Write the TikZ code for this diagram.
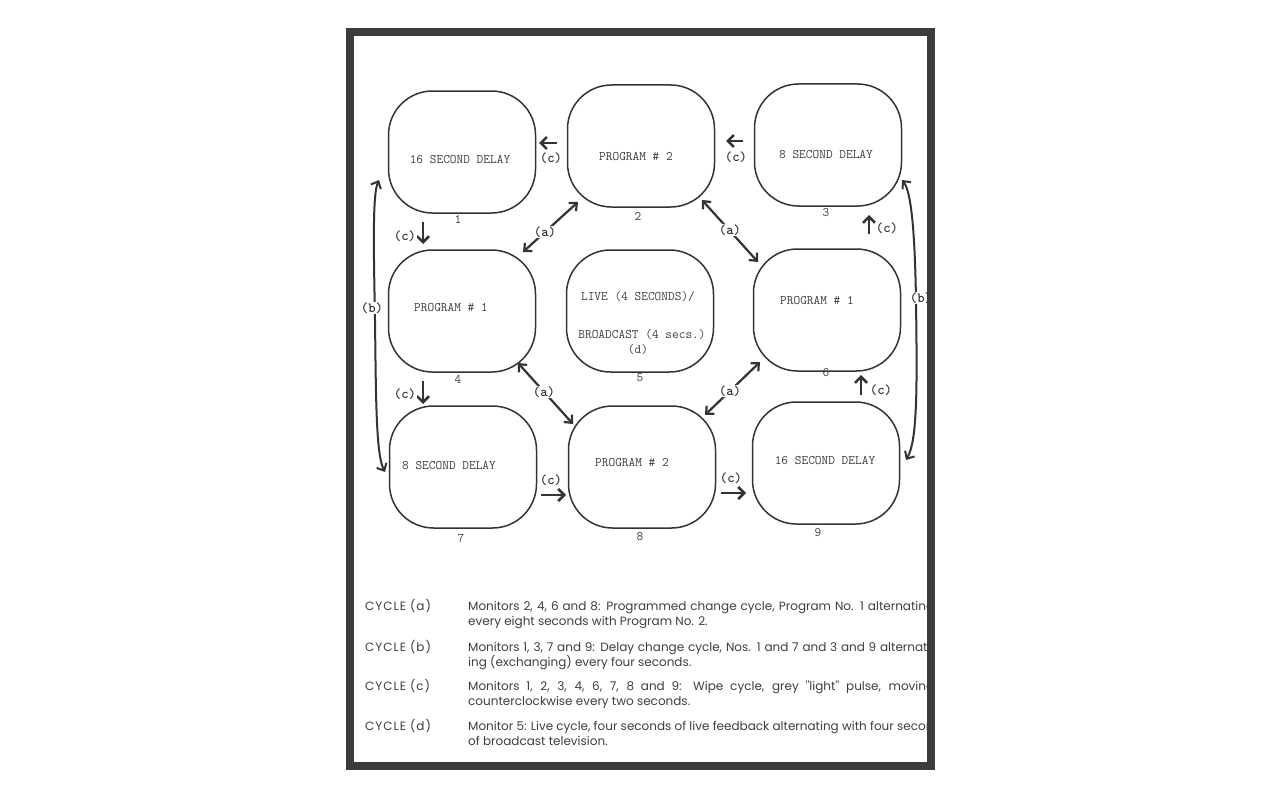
\documentclass[tikz,border=0pt]{standalone}
\usepackage{fontspec}
\newfontfamily\capfont{Poppins}
\usetikzlibrary{arrows.meta}
\definecolor{ink}{HTML}{333333}
\definecolor{txt}{HTML}{3E3E3E}
\definecolor{framec}{HTML}{3C3C3C}
\newcommand{\jline}[1]{\hbox to 466pt{#1}}
\begin{document}
\begin{tikzpicture}[x=1pt,y=-1pt,
  monitor/.style={draw=ink, line width=1.5pt, rounded corners=44pt, minimum width=147pt, minimum height=122pt, inner sep=0pt},
  mtext/.style={font=\ttfamily\fontsize{13}{15}\selectfont, text=txt, inner sep=0pt},
  num/.style={font=\ttfamily\fontsize{13}{15}\selectfont, text=txt, inner sep=0pt},
  lab/.style={font=\ttfamily\bfseries\fontsize{14}{16}\selectfont, text=ink, fill=white, inner sep=0.5pt},
  carrow/.style={line width=2.6pt, draw=ink, -{Straight Barb[length=6pt,width=12pt]}},
  aarrow/.style={line width=2.2pt, draw=ink, {Straight Barb[length=6pt,width=11pt]}-{Straight Barb[length=6pt,width=11pt]}},
  barrow/.style={line width=2pt, draw=ink, {Straight Barb[length=6pt,width=11pt]}-{Straight Barb[length=6pt,width=11pt]}},
  captext/.style={font=\capfont\fontsize{12}{14}\selectfont, text=txt, anchor=base west, inner sep=0pt},
  cyc/.style={font=\capfont\addfontfeature{LetterSpace=8}\fontsize{12}{14}\selectfont, text=txt, anchor=base west, inner sep=0pt}
]
\useasboundingbox (0,0) rectangle (1280,800);
\fill[white] (0,0) rectangle (1280,800);

% monitors
\node[monitor] (m1) at (462,152) {};
\node[monitor] (m2) at (641,146) {};
\node[monitor] (m3) at (828,145) {};
\node[monitor] (m4) at (462,311) {};
\node[monitor] (m5) at (640,311) {};
\node[monitor] (m6) at (827,310) {};
\node[monitor] (m7) at (463,467) {};
\node[monitor] (m8) at (642,467) {};
\node[monitor] (m9) at (826,463) {};

% monitor texts
\node[mtext] (t1) at (460,160) {16 SECOND DELAY};
\node[mtext] (t2) at (636,157) {PROGRAM \# 2};
\node[mtext] (t3) at (826,155) {8 SECOND DELAY};
\node[mtext] (t4) at (451,308) {PROGRAM \# 1};
\node[mtext] (t5a) at (638,297) {LIVE (4 SECONDS)/};
\node[mtext] (t5b) at (642,335) {BROADCAST (4 secs.)};
\node[mtext] (t5c) at (638,350) {(d)};
\node[mtext] (t6) at (817,301) {PROGRAM \# 1};
\node[mtext] (t7) at (449,466) {8 SECOND DELAY};
\node[mtext] (t8) at (632,463) {PROGRAM \# 2};
\node[mtext] (t9) at (825,461) {16 SECOND DELAY};

% numbers
\node[num] (n1) at (458,219) {1};
\node[num] (n2) at (638,216) {2};
\node[num] (n3) at (826,213) {3};
\node[num] (n4) at (458,379) {4};
\node[num] (n5) at (640,378) {5};
\node[num] (n6) at (826,373) {6};
\node[num] (n7) at (461,539) {7};
\node[num] (n8) at (640,537) {8};
\node[num] (n9) at (818,533) {9};

% (c) arrows
\coordinate (c21s) at (557,143); \coordinate (c21e) at (539,143);
\draw[carrow] (c21s) -- (c21e);
\node[lab] (lc21) at (551,158) {(c)};
\coordinate (c32s) at (743,141); \coordinate (c32e) at (726,141);
\draw[carrow] (c32s) -- (c32e);
\node[lab] (lc32) at (736,157) {(c)};
\coordinate (c14s) at (423,222); \coordinate (c14e) at (423,244);
\draw[carrow] (c14s) -- (c14e);
\node[lab] (lc14) at (405,236) {(c)};
\coordinate (c47s) at (423,381); \coordinate (c47e) at (423,404);
\draw[carrow] (c47s) -- (c47e);
\node[lab] (lc47) at (405,394) {(c)};
\coordinate (c78s) at (541,495); \coordinate (c78e) at (566,495);
\draw[carrow] (c78s) -- (c78e);
\node[lab] (lc78) at (551,480) {(c)};
\coordinate (c89s) at (721,493); \coordinate (c89e) at (746,493);
\draw[carrow] (c89s) -- (c89e);
\node[lab] (lc89) at (731,478) {(c)};
\coordinate (c96s) at (861,395); \coordinate (c96e) at (861,375);
\draw[carrow] (c96s) -- (c96e);
\node[lab] (lc96) at (881,390) {(c)};
\coordinate (c63s) at (869,234); \coordinate (c63e) at (869,215);
\draw[carrow] (c63s) -- (c63e);
\node[lab] (lc63) at (887,228) {(c)};

% (a) arrows
\coordinate (a24s) at (578,202); \coordinate (a24e) at (523,252);
\draw[aarrow] (a24s) -- (a24e);
\node[lab] (la24) at (545,232) {(a)};
\coordinate (a26s) at (702,200); \coordinate (a26e) at (758,262);
\draw[aarrow] (a26s) -- (a26e);
\node[lab] (la26) at (730,230) {(a)};
\coordinate (a48s) at (518,363); \coordinate (a48e) at (573,424);
\draw[aarrow] (a48s) -- (a48e);
\node[lab] (la48) at (544,392) {(a)};
\coordinate (a68s) at (760,362); \coordinate (a68e) at (705,415);
\draw[aarrow] (a68s) -- (a68e);
\node[lab] (la68) at (730,391) {(a)};

% (b) arrows
\coordinate (bl1) at (379,180); \coordinate (bl2) at (385,472);
\draw[barrow] (bl1) .. controls (372,195) and (374,260) .. (375,320) .. controls (376,400) and (376,455) .. (bl2);
\node[lab] (lbl) at (372,308) {(b)};
\coordinate (br1) at (902,180); \coordinate (br2) at (906,460);
\draw[barrow] (br1) .. controls (912,192) and (915,240) .. (916,300) .. controls (917,380) and (918,440) .. (br2);
\node[lab] (lbr) at (921,298) {(b)};

% caption
\begin{scope}
\clip (354,560) rectangle (927,762);
\node[cyc] (ca) at (365,610) {CYCLE (a)};
\node[captext] (da1) at (468,610) {\jline{Monitors 2, 4, 6 and 8: Programmed change cycle, Program No. 1 alternating}};
\node[captext] (da2) at (468,625) {every eight seconds with Program No. 2.};
\node[cyc] (cb) at (365,651) {CYCLE (b)};
\node[captext] (db1) at (468,651) {\jline{Monitors 1, 3, 7 and 9: Delay change cycle, Nos. 1 and 7 and 3 and 9 alternat-}};
\node[captext] (db2) at (468,666) {ing (exchanging) every four seconds.};
\node[cyc] (cc) at (365,690) {CYCLE (c)};
\node[captext] (dc1) at (468,690) {\jline{Monitors 1, 2, 3, 4, 6, 7, 8 and 9: Wipe cycle, grey ''light'' pulse, moving}};
\node[captext] (dc2) at (468,705) {counterclockwise every two seconds.};
\node[cyc] (cd) at (365,730) {CYCLE (d)};
\node[captext] (dd1) at (468,730) {Monitor 5: Live cycle, four seconds of live feedback alternating with four seconds};
\node[captext] (dd2) at (468,745) {of broadcast television.};
\end{scope}

% frame
\draw[line width=8.5pt, draw=framec] (350,32) rectangle (931,766);
\end{tikzpicture}
\end{document}
